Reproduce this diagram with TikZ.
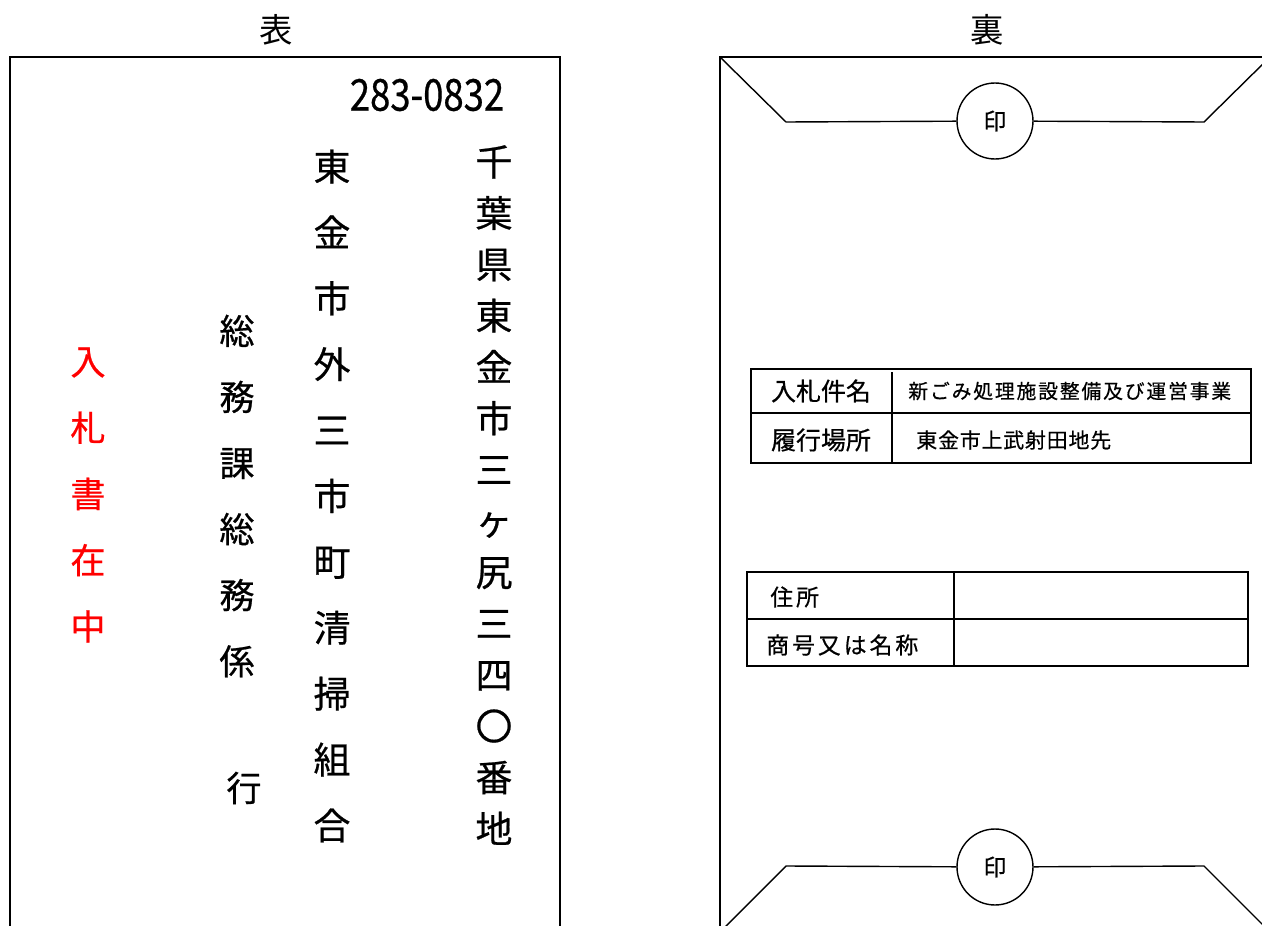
\documentclass[tikz,border=0pt]{standalone}
\usepackage{fontspec}
\usepackage{graphicx}
\setmainfont{Noto Sans CJK JP}[FakeBold=0.6]
\newfontfamily\labelfont{Noto Sans CJK JP}
\def\pxfont#1#2{\fontsize{#1pt}{#2pt}\selectfont}
\tikzset{
  edge/.style={line width=0.8pt},
  tate/.style={align=center, inner sep=0pt},
  yoko/.style={anchor=west, inner sep=0pt},
  seal/.style={circle, draw, line width=0.8pt, minimum size=1.52cm, inner sep=0pt, font=\pxfont{13}{15}},
}

\begin{document}
\begin{tikzpicture}[x=0.02cm, y=-0.02cm]
			%%%%% START %%%%%
			\useasboundingbox (0,0) rectangle (1262,926);
			\clip (0,0) rectangle (1262,926);
			
			% front side
			\node[font=\labelfont\pxfont{19}{22}] (omote) at (276,30) {表};
			\draw[edge] (10,57) rectangle (560,940);
			\node[font=\pxfont{25}{28}] (zip) at (427,95) {\scalebox{0.83}[1]{283-0832}};
			
			\node[tate, font=\pxfont{21}{29.2}] (addr) at (494,495) {千\\葉\\県\\東\\金\\市\\三\\ヶ\\尻\\三\\四\\〇\\番\\地};
			\node[tate, font=\pxfont{21}{37.5}] (union) at (332,496) {東\\金\\市\\外\\三\\市\\町\\清\\掃\\組\\合};
			\node[tate, font=\pxfont{20}{37.6}] (section) at (237,496) {総\\務\\課\\総\\務\\係};
			\node[font=\pxfont{20}{22}] (iki) at (244,788) {行};
			\node[tate, font=\pxfont{20}{37.7}, red] (enclosed) at (88,495) {入\\札\\書\\在\\中};
			
			% back side
			\node[font=\labelfont\pxfont{19}{22}] (ura) at (987,30) {裏};
			\coordinate (bTL) at (720,57);
			\coordinate (bTR) at (1270,57);
			\coordinate (bBL) at (720,932);
			\coordinate (bBR) at (1270,932);
			\draw[edge] (bTL) -- (bTR) -- (bBR) -- (bBL) -- cycle;
			
			\coordinate (fTL) at (786,122);
			\coordinate (fTR) at (1204,122);
			\node[seal] (sealT) at (995,121) {印};
			\draw[edge] (bTL) -- (fTL) -- (sealT);
			\draw[edge] (sealT) -- (fTR) -- (bTR);
			
			\coordinate (fBL) at (786,866);
			\coordinate (fBR) at (1204,866);
			\node[seal] (sealB) at (995,867) {印};
			\draw[edge] (bBL) -- (fBL) -- (sealB);
			\draw[edge] (sealB) -- (fBR) -- (bBR);
			
			% bid table
			\draw[edge] (751,369) rectangle (1251,463);
			\draw[edge] (751,413) -- (1251,413);
			\draw[edge] (892,372) -- (892,463);
			\node[font=\pxfont{14.2}{16}] (nameKey) at (821,391) {入札件名};
			\node[font=\pxfont{14.2}{16}] (placeKey) at (821,440) {履行場所};
			\node[yoko, font=\pxfont{11.3}{13}\addfontfeature{LetterSpace=9}] (nameVal) at (908,391) {新ごみ処理施設整備及び運営事業};
			\node[yoko, font=\pxfont{11.9}{13}\addfontfeature{LetterSpace=4}] (placeVal) at (916,440) {東金市上武射田地先};
			
			% bidder table
			\draw[edge] (747,572) rectangle (1248,666);
			\draw[edge] (747,619) -- (1248,619);
			\draw[edge] (954,572) -- (954,666);
			\node[yoko, font=\pxfont{13}{15}\addfontfeature{LetterSpace=13}] (addrKey) at (770,597) {住所};
			\node[yoko, font=\pxfont{13}{15}\addfontfeature{LetterSpace=13}] (firmKey) at (766,645) {商号又は名称};
			
			%%%%% END %%%%%
\end{tikzpicture}
\end{document}
